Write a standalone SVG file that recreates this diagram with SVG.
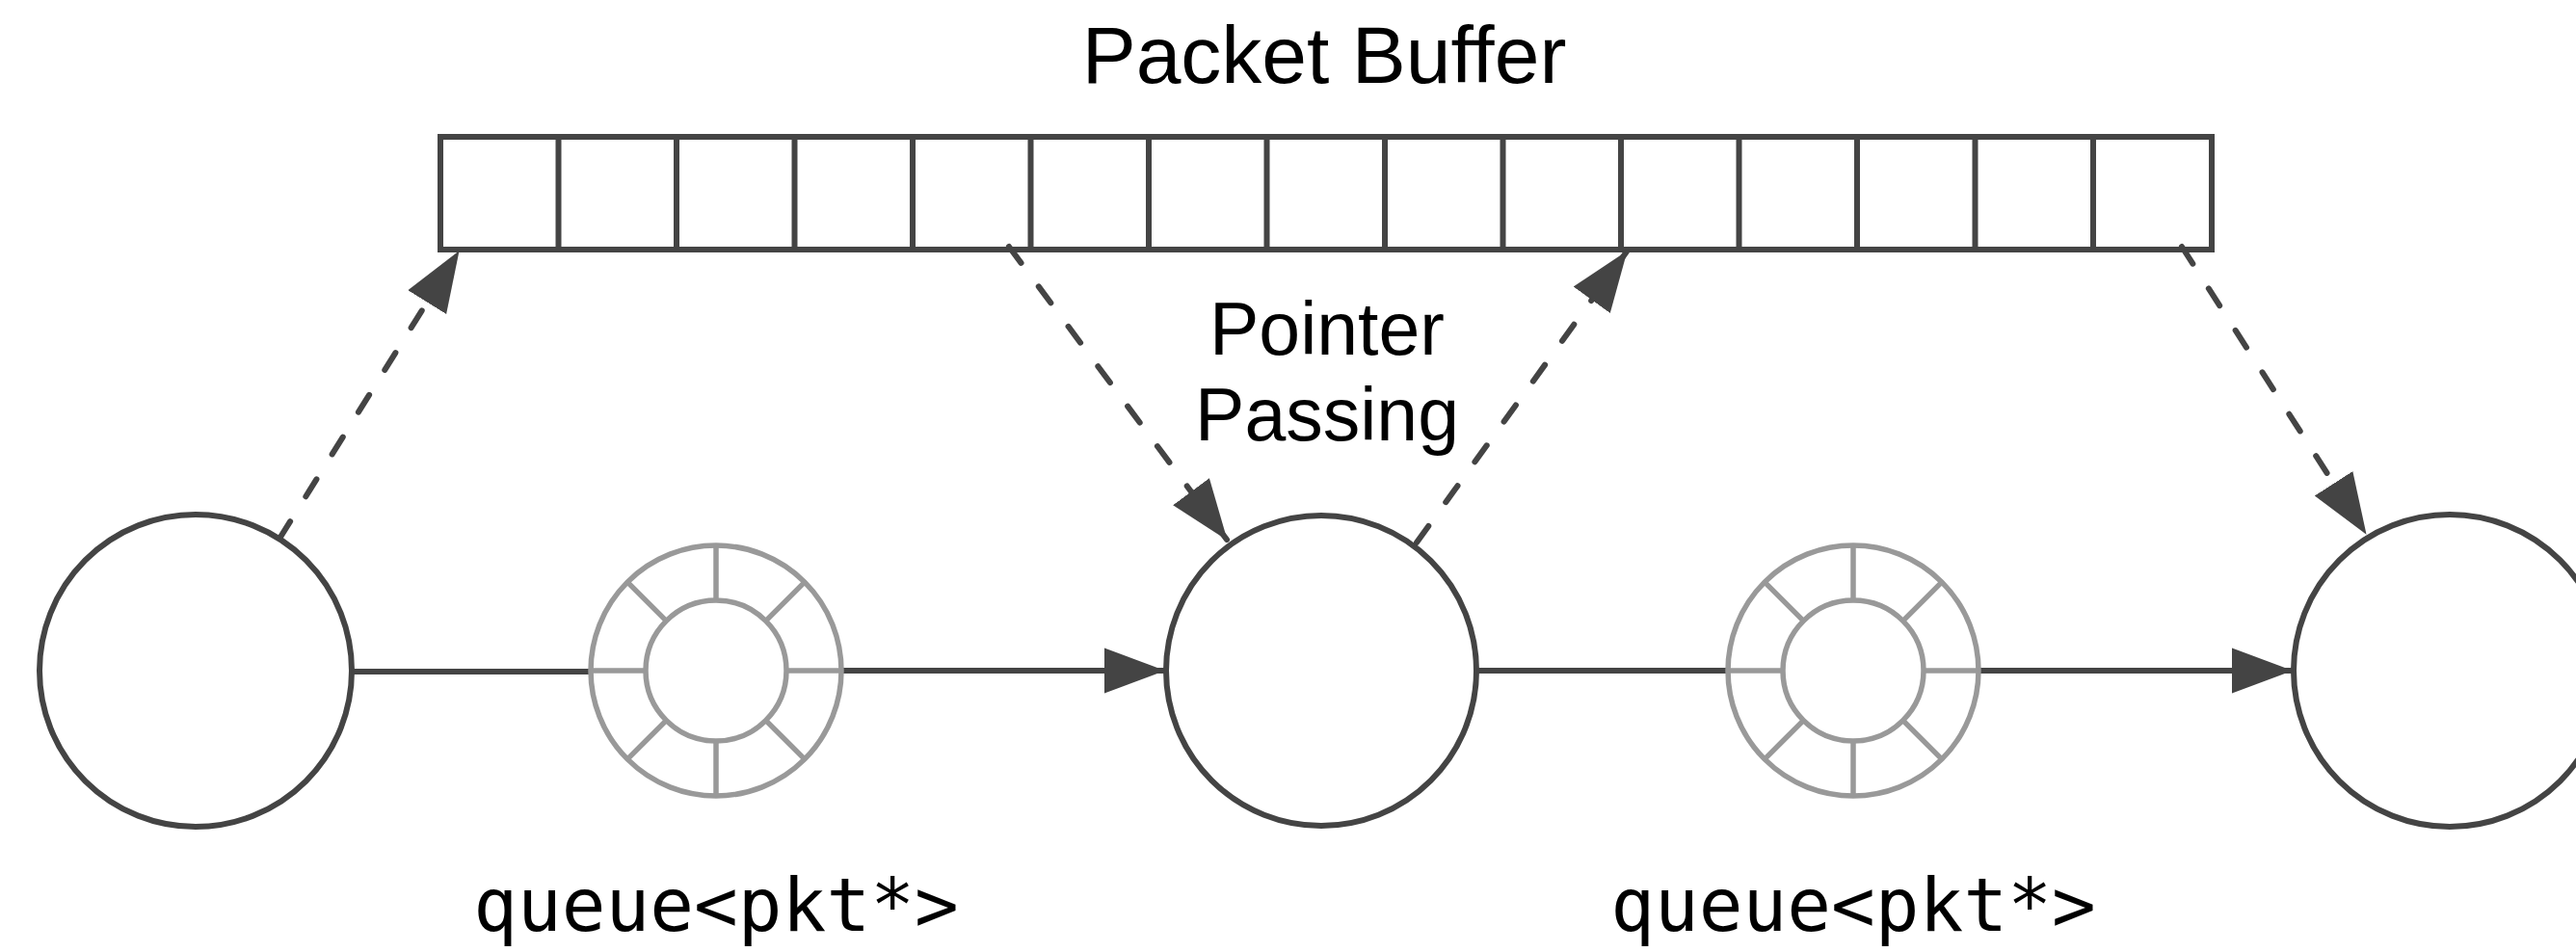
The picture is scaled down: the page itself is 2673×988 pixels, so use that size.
<svg xmlns="http://www.w3.org/2000/svg" width="2673" height="988" viewBox="0 0 2673 988">
<style>
.node{fill:#fff;stroke:#444;stroke-width:6}
.buf{fill:#fff;stroke:#444;stroke-width:6}
.ring{fill:none;stroke:#999;stroke-width:5.5}
.solid{fill:none;stroke:#444;stroke-width:6}
.dash{fill:none;stroke:#444;stroke-width:6;stroke-dasharray:21 30.6;stroke-linecap:round}
.sans{font-family:"Liberation Sans",Arial,Helvetica,sans-serif;fill:#000}
.mono{font-family:"DejaVu Sans Mono","Liberation Mono",monospace;fill:#000}
</style>
<defs>
<marker id="ah" markerUnits="userSpaceOnUse" markerWidth="64" markerHeight="50" viewBox="0 0 64 50" refX="62" refY="25" orient="auto">
<path d="M0,1.5 L63,25 L0,48.5 Z" fill="#444"/>
</marker>
<g id="ringshape">
<circle r="130" class="ring"/>
<circle r="73" class="ring"/>
<path class="ring" d="M73,0H130M-73,0H-130M0,73V130M0,-73V-130M51.6,51.6L91.9,91.9M-51.6,51.6L-91.9,91.9M51.6,-51.6L91.9,-91.9M-51.6,-51.6L-91.9,-91.9"/>
</g>
</defs>
<g id="title"><text class="sans" x="1374" y="86" font-size="84" text-anchor="middle">Packet Buffer</text></g>
<g id="buffer">
<rect class="buf" x="457" y="142" width="1838" height="117"/>
<path class="buf" d="M579.5,142V259M702,142V259M824.5,142V259M947,142V259M1069.5,142V259M1192,142V259M1314.5,142V259M1437,142V259M1559.5,142V259M1682,142V259M1804.5,142V259M1927,142V259M2049.5,142V259M2172,142V259"/>
</g>
<g id="label-pointer">
<text class="sans" x="1377" y="368" font-size="77" text-anchor="middle">Pointer</text>
<text class="sans" x="1377" y="457" font-size="77" text-anchor="middle">Passing</text>
</g>
<g id="node-left"><circle class="node" cx="203" cy="696" r="162"/></g>
<g id="node-mid"><circle class="node" cx="1371" cy="696" r="161"/></g>
<g id="node-right"><circle class="node" cx="2542" cy="696" r="162"/></g>
<g id="connectors">
<path class="solid" d="M365,697H613"/>
<path class="solid" d="M873,696H1208" marker-end="url(#ah)"/>
<path class="solid" d="M1532,696H1793"/>
<path class="solid" d="M2053,696H2378" marker-end="url(#ah)"/>
<path class="dash" d="M290,559L476,261" marker-end="url(#ah)"/>
<path class="dash" d="M1047,256L1273,560" marker-end="url(#ah)"/>
<path class="dash" d="M1470,563L1688,261" marker-end="url(#ah)"/>
<path class="dash" d="M2264,256L2455,554" marker-end="url(#ah)"/>
</g>
<g id="queue-left"><use href="#ringshape" x="743" y="696"/></g>
<g id="queue-right"><use href="#ringshape" x="1923" y="696"/></g>
<g id="label-queue-left"><text class="mono" x="743" y="966" font-size="76" text-anchor="middle">queue&lt;pkt*&gt;</text></g>
<g id="label-queue-right"><text class="mono" x="1923" y="966" font-size="76" text-anchor="middle">queue&lt;pkt*&gt;</text></g>
</svg>
